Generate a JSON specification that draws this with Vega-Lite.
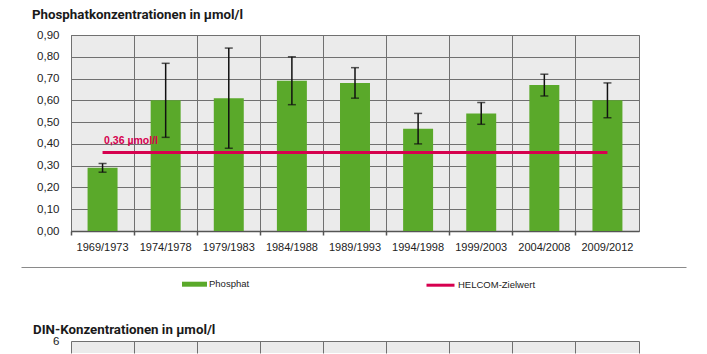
{
  "$schema": "https://vega.github.io/schema/vega-lite/v6.json",
  "padding": {"left": 20, "top": 7, "right": 5, "bottom": 0},
  "datasets": {
    "phos": [
      {"period": "1969/1973", "mean": 0.29, "lo": 0.27, "hi": 0.31},
      {"period": "1974/1978", "mean": 0.60, "lo": 0.43, "hi": 0.77},
      {"period": "1979/1983", "mean": 0.61, "lo": 0.38, "hi": 0.84},
      {"period": "1984/1988", "mean": 0.69, "lo": 0.58, "hi": 0.80},
      {"period": "1989/1993", "mean": 0.68, "lo": 0.61, "hi": 0.75},
      {"period": "1994/1998", "mean": 0.47, "lo": 0.40, "hi": 0.54},
      {"period": "1999/2003", "mean": 0.54, "lo": 0.49, "hi": 0.59},
      {"period": "2004/2008", "mean": 0.67, "lo": 0.62, "hi": 0.72},
      {"period": "2009/2012", "mean": 0.60, "lo": 0.52, "hi": 0.68}
    ],
    "target": [
      {"from": "1969/1973", "to": "2009/2012", "value": 0.36, "label": "0,36 µmol/l"}
    ]
  },
  "spacing": 14,
  "vconcat": [
    {
      "title": {"text": "Phosphatkonzentrationen in µmol/l", "anchor": "start", "frame": "group", "dx": -39, "baseline": "alphabetic", "offset": -3, "font": "Roboto", "fontSize": 13.3, "fontWeight": "bold", "color": "#1a1a1a"},
      "width": 568,
      "height": 196,
      "view": {"fill": "#ebebeb", "stroke": "#707070", "strokeWidth": 1},
      "layer": [
        {
          "data": {"name": "phos"},
          "mark": {"type": "bar", "width": {"band": 0.475}},
          "encoding": {
            "x": {"field": "period", "type": "nominal", "sort": null,
              "scale": {"domain": ["1969/1973","1974/1978","1979/1983","1984/1988","1989/1993","1994/1998","1999/2003","2004/2008","2009/2012"], "paddingInner": 0, "paddingOuter": 0},
              "axis": {"title": null, "bandPosition": 0, "labelAngle": 0, "grid": true, "gridColor": "#707070", "gridWidth": 1, "tickSize": 4, "tickColor": "#555", "tickWidth": 1.5, "domainColor": "#555", "domainWidth": 1.5, "labelPadding": 6, "labelFont": "Liberation Sans", "labelFontSize": 11, "labelColor": "#222"}},
            "y": {"field": "mean", "type": "quantitative", "scale": {"domain": [0, 0.9], "nice": false},
              "axis": {"title": null, "values": [0, 0.1, 0.2, 0.3, 0.4, 0.5, 0.6, 0.7, 0.8, 0.9], "labelOverlap": false, "labelExpr": "replace(format(datum.value, '.2f'), '.', ',')", "ticks": false, "domain": false, "grid": true, "gridColor": "#707070", "gridWidth": 1, "labelPadding": 12, "minExtent": 50, "maxExtent": 50, "labelFont": "Liberation Sans", "labelFontSize": 11.5, "labelColor": "#222"}},
            "fill": {"datum": "Phosphat", "scale": {"range": ["#5aa92a"]},
              "legend": {"orient": "none", "legendX": 111, "legendY": 236.7, "title": null, "symbolType": "M-1,-0.2H1V0.2H-1Z", "symbolSize": 625, "symbolOpacity": 1, "symbolStrokeWidth": 0, "labelFont": "Liberation Sans", "labelFontSize": 9.5, "labelColor": "#222", "labelOffset": 2, "padding": 0}}
          }
        },
        {
          "data": {"name": "phos"},
          "mark": {"type": "rule", "color": "#111", "strokeWidth": 1.5},
          "encoding": {
            "x": {"field": "period", "type": "nominal", "sort": null},
            "y": {"field": "lo", "type": "quantitative",
              "axis": {"title": null, "values": [0, 0.1, 0.2, 0.3, 0.4, 0.5, 0.6, 0.7, 0.8, 0.9], "labelOverlap": false, "labelExpr": "replace(format(datum.value, '.2f'), '.', ',')", "ticks": false, "domain": false, "grid": true, "gridColor": "#707070", "gridWidth": 1, "labelPadding": 12, "minExtent": 50, "maxExtent": 50, "labelFont": "Liberation Sans", "labelFontSize": 11.5, "labelColor": "#222"}},
            "y2": {"field": "hi"}
          }
        },
        {
          "data": {"name": "phos"},
          "transform": [{"fold": ["lo", "hi"], "as": ["bound", "end"]}],
          "mark": {"type": "tick", "color": "#111", "thickness": 1.5, "size": 8, "orient": "horizontal"},
          "encoding": {
            "x": {"field": "period", "type": "nominal", "sort": null},
            "y": {"field": "end", "type": "quantitative",
              "axis": {"title": null, "values": [0, 0.1, 0.2, 0.3, 0.4, 0.5, 0.6, 0.7, 0.8, 0.9], "labelOverlap": false, "labelExpr": "replace(format(datum.value, '.2f'), '.', ',')", "ticks": false, "domain": false, "grid": true, "gridColor": "#707070", "gridWidth": 1, "labelPadding": 12, "minExtent": 50, "maxExtent": 50, "labelFont": "Liberation Sans", "labelFontSize": 11.5, "labelColor": "#222"}}
          }
        },
        {
          "data": {"name": "target"},
          "mark": {"type": "rule", "strokeWidth": 3},
          "encoding": {
            "x": {"field": "from", "type": "nominal", "sort": null},
            "x2": {"field": "to"},
            "y": {"field": "value", "type": "quantitative",
              "axis": {"title": null, "values": [0, 0.1, 0.2, 0.3, 0.4, 0.5, 0.6, 0.7, 0.8, 0.9], "labelOverlap": false, "labelExpr": "replace(format(datum.value, '.2f'), '.', ',')", "ticks": false, "domain": false, "grid": true, "gridColor": "#707070", "gridWidth": 1, "labelPadding": 12, "minExtent": 50, "maxExtent": 50, "labelFont": "Liberation Sans", "labelFontSize": 11.5, "labelColor": "#222"}},
            "stroke": {"datum": "HELCOM-Zielwert", "scale": {"range": ["#d6004f"]},
              "legend": {"orient": "none", "legendX": 354, "legendY": 234.7, "title": null, "symbolType": "stroke", "symbolSize": 784, "symbolStrokeWidth": 3, "labelFont": "Liberation Sans", "labelFontSize": 9.5, "labelColor": "#222", "labelOffset": 2, "padding": 0}}
          }
        },
        {
          "data": {"name": "target"},
          "mark": {"type": "text", "align": "left", "baseline": "alphabetic", "dx": 1.5, "dy": -8.5, "font": "Liberation Sans", "fontSize": 10.5, "fontWeight": "bold", "color": "#d6004f"},
          "encoding": {
            "x": {"field": "from", "type": "nominal", "sort": null},
            "y": {"field": "value", "type": "quantitative",
              "axis": {"title": null, "values": [0, 0.1, 0.2, 0.3, 0.4, 0.5, 0.6, 0.7, 0.8, 0.9], "labelOverlap": false, "labelExpr": "replace(format(datum.value, '.2f'), '.', ',')", "ticks": false, "domain": false, "grid": true, "gridColor": "#707070", "gridWidth": 1, "labelPadding": 12, "minExtent": 50, "maxExtent": 50, "labelFont": "Liberation Sans", "labelFontSize": 11.5, "labelColor": "#222"}},
            "text": {"field": "label"}
          }
        }
      ]
    },
    {
      "width": 568,
      "height": 41,
      "view": {"stroke": null, "fill": null},
      "data": {"name": "target"},
      "mark": {"type": "rule", "opacity": 0},
      "encoding": {
        "x": {"field": "value", "type": "quantitative", "scale": {"domain": [0, 1], "range": [-50, 615]},
          "axis": {"orient": "top", "title": null, "domain": true, "domainColor": "#8a8a8a", "domainWidth": 1.2, "ticks": false, "labels": false, "grid": false}}
      }
    },
    {
      "title": {"text": "DIN-Konzentrationen in µmol/l", "anchor": "start", "frame": "group", "dx": -38, "baseline": "alphabetic", "offset": -12, "font": "Roboto", "fontSize": 13.3, "fontWeight": "bold", "color": "#1a1a1a"},
      "width": 568,
      "height": 12,
      "view": {"fill": "#ebebeb", "stroke": null},
      "data": {"name": "phos"},
      "mark": {"type": "tick", "opacity": 0},
      "encoding": {
        "x": {"field": "period", "type": "nominal", "sort": null,
          "scale": {"paddingInner": 0, "paddingOuter": 0},
          "axis": {"title": null, "bandPosition": 1, "grid": true, "gridColor": "#707070", "gridWidth": 1, "ticks": false, "labels": false, "domain": false}},
        "y": {"datum": 0, "type": "quantitative", "scale": {"domain": [0, 6], "nice": false},
          "axis": {"title": null, "values": [6], "ticks": false, "domain": true, "domainColor": "#707070", "grid": true, "gridColor": "#707070", "labelPadding": 12, "minExtent": 50, "maxExtent": 50, "labelFont": "Liberation Sans", "labelFontSize": 11.5, "labelColor": "#222"}}
      }
    }
  ]
}
